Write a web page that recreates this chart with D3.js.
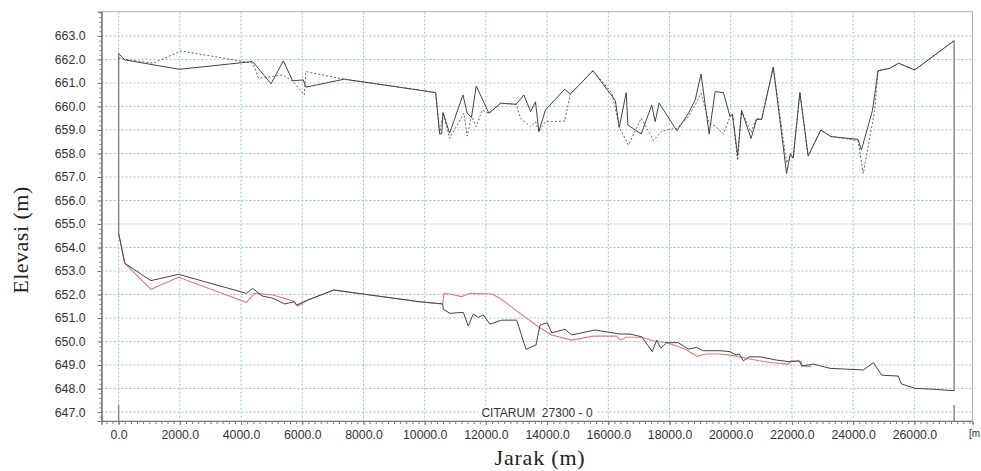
<!DOCTYPE html>
<html>
<head>
<meta charset="utf-8">
<script src="https://cdn.jsdelivr.net/npm/d3@7/dist/d3.min.js"></script>
<style>
  body { margin: 0; background: #fff; }
  .tick text { font-family: Arial, "Liberation Sans", sans-serif; }
</style>
</head>
<body>
<div id="chart"></div>
<script>
// chainage (m) and level (m) for each profile line
var bankSolidX = [0, 200, 1990, 4380, 4980, 5380, 5685, 6030, 6120, 7370, 9160, 10360, 10490, 10555, 10600, 10815,
  11250, 11390, 11530, 11685, 12100, 12480, 12990, 13240, 13460, 13620, 13730, 13945, 14575, 14760, 15500,
  16230, 16360, 16585, 16640, 17075, 17420, 17530, 17660, 18240, 18620, 18840, 19030, 19295, 19490, 19760,
  19980, 20055, 20225, 20355, 20665, 20845, 21010, 21390, 21825, 21950, 22040, 22260, 22530, 22945, 23270,
  24160, 24270, 24630, 24815, 25195, 25485, 26010, 27300];
var bankSolidZ = [662.25, 661.98, 661.58, 661.91, 660.96, 661.94, 661.09, 661.13, 660.82, 661.16, 660.82, 660.59, 658.83, 658.83, 659.74, 658.86,
  660.49, 659.71, 659.54, 660.87, 659.71, 660.14, 660.09, 660.49, 659.78, 660.2, 658.93, 659.85, 660.73, 660.53, 661.52,
  660.25, 659.11, 660.59, 659.21, 658.83, 660.06, 659.35, 660.14, 658.97, 659.71, 660.28, 661.38, 658.83, 660.63, 660.59,
  659.57, 659.68, 657.89, 659.82, 658.64, 659.45, 659.45, 661.67, 657.15, 658.0, 657.8, 660.59, 657.89, 659.0, 658.72,
  658.6, 658.15, 659.82, 661.52, 661.62, 661.84, 661.55, 662.8];

var bankDottedX = [0, 1120, 2045, 4380, 4575, 4980, 5360, 5705, 6065, 6120, 7370, 9160, 10360, 10490, 10600, 10815,
  11280, 11390, 11530, 11685, 11880, 12100, 12480, 12990, 13130, 13460, 13620, 13730, 13945, 14575, 14760, 15500,
  16120, 16360, 16660, 17075, 17480, 17750, 18240, 18620, 18840, 19030, 19295, 19490, 19760, 19980, 20055,
  20225, 20355, 20665, 20845, 21010, 21390, 21825, 21950, 22040, 22260, 22530, 22945, 23270, 24160, 24330,
  24700, 24815, 25195, 25485, 26010, 27300];
var bankDottedZ = [662.05, 661.84, 662.36, 661.84, 661.2, 661.27, 661.34, 661.06, 660.49, 661.48, 661.16, 660.82, 660.59, 658.83, 659.74, 658.64,
  659.71, 658.74, 659.6, 659.14, 659.85, 659.71, 660.14, 660.09, 659.5, 659.14, 659.35, 658.93, 659.35, 659.38, 660.53, 661.52,
  660.56, 659.11, 658.36, 659.5, 658.55, 658.97, 659.07, 659.57, 660.06, 660.56, 659.29, 659.17, 658.83, 659.57, 659.68,
  657.7, 659.82, 658.9, 659.5, 659.45, 661.67, 657.6, 657.9, 657.8, 660.59, 657.89, 659.0, 658.72, 658.55, 657.15,
  659.8, 661.52, 661.62, 661.84, 661.55, 662.8];

var bedBlackX = [0, 200, 1055, 1955, 4175, 4375, 4685, 5045, 5420, 5730, 5820, 6130, 7025, 9846, 10588, 10608,
  10827, 11261, 11425, 11588, 11752, 11915, 12134, 12516, 13007, 13310, 13637, 13768, 14007, 14150, 14585,
  14804, 15565, 16382, 16709, 17092, 17438, 17582, 17712, 17908, 18288, 18614, 18889, 19085, 19650, 19977,
  20173, 20281, 20412, 20608, 20958, 21503, 21938, 22242, 22320, 22699, 23245, 24333, 24660, 24935, 25477,
  25533, 25588, 26023, 26621, 27300];
var bedBlackZ = [654.6, 653.33, 652.59, 652.86, 652.05, 652.26, 651.94, 651.84, 651.6, 651.69, 651.55, 651.74, 652.19, 651.69, 651.6, 651.37,
  651.2, 651.24, 650.66, 651.17, 651.03, 651.13, 650.74, 650.91, 650.91, 649.67, 649.85, 650.7, 650.8, 650.37, 650.52,
  650.28, 650.49, 650.32, 650.32, 650.2, 649.57, 650.06, 649.71, 649.95, 649.95, 649.68, 649.75, 649.61, 649.61, 649.57,
  649.43, 649.47, 649.18, 649.35, 649.35, 649.21, 649.14, 649.18, 648.96, 649.04, 648.86, 648.79, 649.1, 648.57, 648.53,
  648.33, 648.19, 648.01, 647.97, 647.91];

var bedRedX = [0, 200, 1055, 1955, 4175, 4440, 5045, 5710, 5850, 6190, 7025, 9846, 10588, 10630, 10827, 11208,
  11480, 12189, 12460, 13114, 13712, 14150, 14804, 15510, 16268, 16399, 16595, 17092, 17471, 17908, 18235,
  18562, 18889, 19216, 19650, 20100, 20540, 20930, 21370, 21880, 21970, 22300, 22340, 22640];
var bedRedZ = [654.6, 653.33, 652.22, 652.73, 651.67, 652.05, 651.98, 651.72, 651.51, 651.77, 652.19, 651.69, 651.6, 652.05, 652.02, 651.91,
  652.05, 652.02, 651.84, 651.2, 650.63, 650.28, 650.06, 650.23, 650.23, 650.06, 650.18, 650.18, 650.03, 649.95, 649.81,
  649.64, 649.38, 649.47, 649.47, 649.4, 649.28, 649.18, 649.1, 649.04, 649.18, 649.15, 648.96, 648.93];

var branchStart = 0, branchEnd = 27300;
var branchLabel = "CITARUM  27300 - 0";
var xMajor = d3.range(0, 26001, 2000);
var yMajor = d3.range(647, 663.5, 1);

var width = 981, height = 471;
var plotL = 101.5, plotR = 972.5, plotT = 11.7, plotB = 421;

var svg = d3.select("#chart").append("svg")
    .attr("width", width)
    .attr("height", height);

var x = d3.scaleLinear().domain([-560, 27900]).range([plotL, plotR]);
var y = d3.scaleLinear().domain([646.62, 664.03]).range([plotB, plotT]);

svg.append("defs").append("clipPath").attr("id", "plot")
  .append("rect").attr("x", plotL).attr("y", plotT).attr("width", plotR - plotL).attr("height", plotB - plotT);

// grid
var grid = svg.append("g").attr("class", "grid");
grid.selectAll("line.v").data(xMajor).enter().append("line")
    .attr("x1", function(d) { return x(d); }).attr("x2", function(d) { return x(d); })
    .attr("y1", plotT).attr("y2", plotB)
    .style("stroke", "#8fc3dd").style("stroke-width", 1).style("stroke-dasharray", "2,2");
grid.selectAll("line.h").data(yMajor).enter().append("line")
    .attr("x1", plotL).attr("x2", plotR)
    .attr("y1", function(d) { return y(d); }).attr("y2", function(d) { return y(d); })
    .style("stroke", "#a9bfd0").style("stroke-width", 1).style("stroke-dasharray", "2,2");

// frame
svg.append("rect")
    .attr("x", plotL).attr("y", plotT).attr("width", plotR - plotL).attr("height", plotB - plotT)
    .style("fill", "none").style("stroke", "#b5b5b5").style("stroke-width", 1);

// branch label with white box
var lbl = svg.append("g");
var lblText = lbl.append("text")
    .attr("x", 537).attr("y", y(647) + 4.5)
    .attr("text-anchor", "middle")
    .style("font-family", "Arial, 'Liberation Sans', sans-serif")
    .style("font-size", "12px").style("fill", "#333")
    .style("white-space", "pre")
    .text(branchLabel);
var bb = lblText.node().getBBox();
lbl.insert("rect", "text")
    .attr("x", bb.x - 3).attr("y", bb.y).attr("width", bb.width + 6).attr("height", bb.height)
    .style("fill", "#fff");

var plot = svg.append("g").attr("clip-path", "url(#plot)");

// branch end markers
[branchStart, branchEnd].forEach(function(c, i) {
  var topZ = i === 0 ? bankSolidZ[0] : bankSolidZ[bankSolidZ.length - 1];
  var botZ = i === 0 ? bedBlackZ[0] : bedBlackZ[bedBlackZ.length - 1];
  plot.append("line")
      .attr("x1", x(c)).attr("x2", x(c)).attr("y1", y(topZ)).attr("y2", y(botZ))
      .style("stroke", "#8a8a8a").style("stroke-width", 1.5);
  plot.append("line")
      .attr("x1", x(c)).attr("x2", x(c)).attr("y1", y(647.3)).attr("y2", plotB)
      .style("stroke", "#8a8a8a").style("stroke-width", 1.5);
});

function series(xs, zs) {
  return xs.map(function(d, i) { return [d, zs[i]]; });
}
var line = d3.line().x(function(d) { return x(d[0]); }).y(function(d) { return y(d[1]); });

plot.append("path").datum(series(bankDottedX, bankDottedZ))
    .attr("d", line).style("fill", "none")
    .style("stroke", "#666").style("stroke-width", 1).style("stroke-dasharray", "2,2");
plot.append("path").datum(series(bedRedX, bedRedZ))
    .attr("d", line).style("fill", "none")
    .style("stroke", "#e07b7b").style("stroke-width", 1.1);
plot.append("path").datum(series(bedBlackX, bedBlackZ))
    .attr("d", line).style("fill", "none")
    .style("stroke", "#444").style("stroke-width", 1);
plot.append("path").datum(series(bankSolidX, bankSolidZ))
    .attr("d", line).style("fill", "none")
    .style("stroke", "#444").style("stroke-width", 1);

// axes
var fmt = d3.format(".1f");
var xAxis = svg.append("g").attr("transform", "translate(0," + plotB + ")")
    .call(d3.axisBottom(x).tickValues(xMajor).tickFormat(fmt).tickSize(4).tickPadding(5));
var xMinor = svg.append("g").attr("transform", "translate(0," + plotB + ")")
    .call(d3.axisBottom(x).tickValues(d3.range(-400, 27900, 200)).tickFormat("").tickSize(3));
var yAxis = svg.append("g").attr("transform", "translate(" + plotL + ",0)")
    .call(d3.axisLeft(y).tickValues(yMajor).tickFormat(fmt).tickSize(4).tickPadding(12));
var yMinor = svg.append("g").attr("transform", "translate(" + plotL + ",0)")
    .call(d3.axisLeft(y).tickValues(d3.range(646.8, 664, 0.2)).tickFormat("").tickSize(2));

[xAxis, xMinor, yAxis, yMinor].forEach(function(g) {
  g.select(".domain").style("stroke", "#777");
  g.selectAll(".tick line").style("stroke", "#777");
  g.selectAll(".tick text").style("font-size", "12.3px").style("fill", "#333");
});

// titles
svg.append("text")
    .attr("x", 540).attr("y", 465)
    .attr("text-anchor", "middle")
    .style("font-family", "'Liberation Serif', 'DejaVu Serif', serif")
    .style("font-size", "22px").style("letter-spacing", "0.8px").style("fill", "#222")
    .text("Jarak (m)");
svg.append("text")
    .attr("transform", "translate(28,240) rotate(-90)")
    .attr("text-anchor", "middle")
    .style("font-family", "'Liberation Serif', 'DejaVu Serif', serif")
    .style("font-size", "22px").style("letter-spacing", "0.5px").style("fill", "#222")
    .text("Elevasi (m)");
svg.append("text")
    .attr("x", 969).attr("y", 437)
    .style("font-family", "Arial, 'Liberation Sans', sans-serif")
    .style("font-size", "10px").style("fill", "#333")
    .text("[m");
</script>
</body>
</html>
